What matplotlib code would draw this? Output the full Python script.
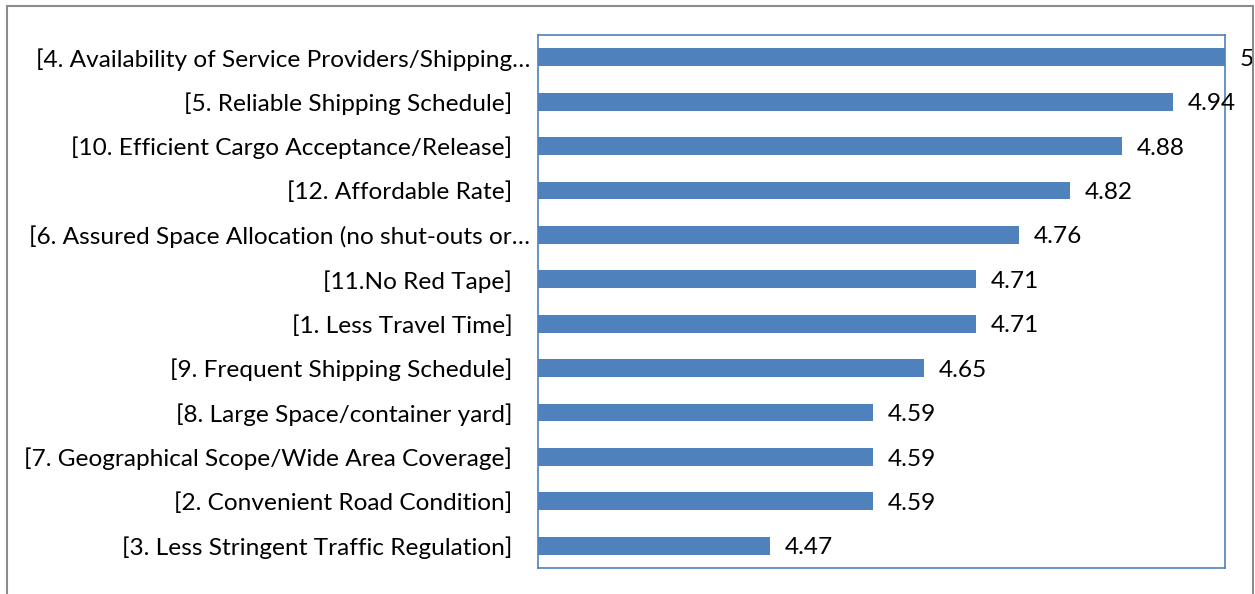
import matplotlib.pyplot as plt
from matplotlib.patches import Rectangle
from matplotlib.transforms import ScaledTranslation

# categories top to bottom
labels = [
    "[4. Availability of Service Providers/Shipping…",
    "[5. Reliable Shipping Schedule]",
    "[10. Efficient Cargo Acceptance/Release]",
    "[12. Affordable Rate]",
    "[6. Assured Space Allocation (no shut-outs or…",
    "[11.No Red Tape]",
    "[1. Less Travel Time]",
    "[9. Frequent Shipping Schedule]",
    "[8. Large Space/container yard]",
    "[7. Geographical Scope/Wide Area Coverage]",
    "[2. Convenient Road Condition]",
    "[3. Less Stringent Traffic Regulation]",
]
scores = [5, 4.94, 4.88, 4.82, 4.76, 4.71, 4.71, 4.65, 4.59, 4.59, 4.59, 4.47]
score_text = ["5", "4.94", "4.88", "4.82", "4.76", "4.71", "4.71", "4.65", "4.59", "4.59", "4.59", "4.47"]

plt.rcParams["font.family"] = ["Lato", "DejaVu Sans"]
blue = "#4F81BD"

W, H = 1255, 594
fig = plt.figure(figsize=(W / 100, H / 100), dpi=100)
ax = fig.add_axes([538 / W, 1 - 568 / H, (1225 - 538) / W, (568 - 35) / H])

y = list(range(len(labels)))
ax.barh(y, scores, height=0.4, color=blue)
ax.set_xlim(4.2, 5.0)
ax.set_ylim(len(labels) - 0.5, -0.5)
ax.set_yticks(y)
ax.set_yticklabels(labels, fontsize=17.6)
ax.tick_params(axis="y", length=0, pad=18.5)
ax.set_xticks([])
for s in ax.spines.values():
    s.set_color(blue)
    s.set_linewidth(1.2)

# truncated labels sit closer to the axis (like excel does)
shift = ScaledTranslation(0.18, 0, fig.dpi_scale_trans)
for lab in ax.get_yticklabels():
    if lab.get_text().endswith("…"):
        lab.set_transform(lab.get_transform() + shift)

for yi, v, t in zip(y, scores, score_text):
    ax.annotate(t, (v, yi), xytext=(10.5, -1.5), textcoords="offset points",
                va="center", ha="left", fontsize=17.6, annotation_clip=False)

# outer chart frame
fig.patches.append(Rectangle((7 / W, -0.05), (1253 - 7) / W, 1.05 - 6 / H,
                             transform=fig.transFigure, fill=False,
                             edgecolor="#8c8c8c", linewidth=1.5))

fig.savefig("out.png", dpi=100)
